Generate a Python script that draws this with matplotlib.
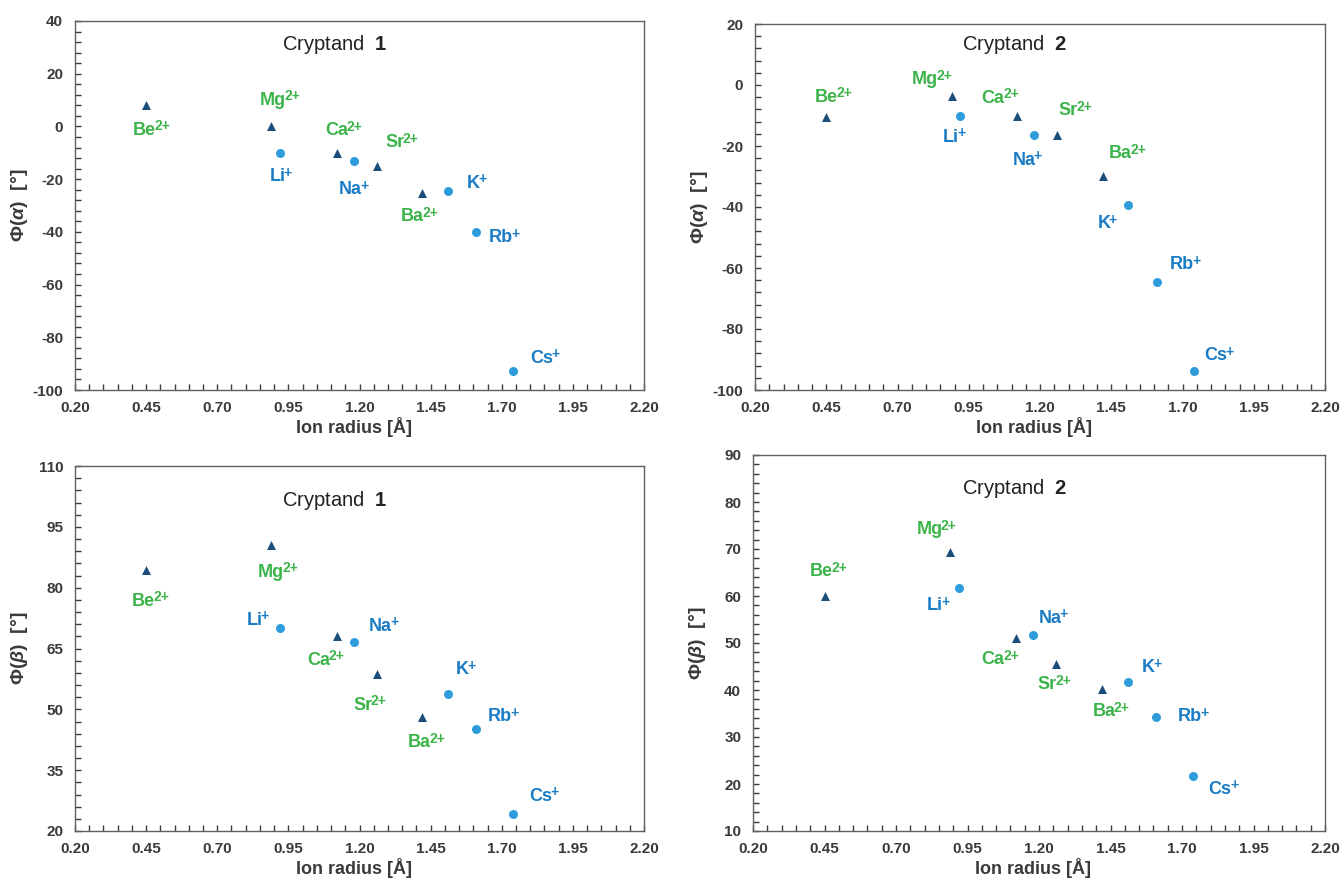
import matplotlib
matplotlib.use("Agg")
import matplotlib.pyplot as plt
import numpy as np
from matplotlib.ticker import FormatStrFormatter

plt.rcParams['font.family'] = ['Liberation Sans', 'DejaVu Sans']
plt.rcParams['axes.unicode_minus'] = False
plt.rcParams['mathtext.fontset'] = 'custom'
plt.rcParams['mathtext.rm'] = 'Liberation Sans:bold'
plt.rcParams['mathtext.bf'] = 'Liberation Sans:bold'
plt.rcParams['mathtext.it'] = 'Liberation Sans:italic:bold'

# ---------------- data ----------------
ions_ae = ['Be', 'Mg', 'Ca', 'Sr', 'Ba']          # alkaline earth (2+)
ions_alk = ['Li', 'Na', 'K', 'Rb', 'Cs']          # alkali (+)
radius_ae = [0.45, 0.89, 1.12, 1.26, 1.42]
radius_alk = [0.92, 1.18, 1.51, 1.61, 1.74]

phi_alpha_1_ae = [8.0, 0.0, -10.0, -15.0, -25.2]
phi_alpha_1_alk = [-10.0, -13.0, -24.6, -40.0, -92.8]
phi_alpha_2_ae = [-10.5, -3.5, -10.0, -16.3, -29.8]
phi_alpha_2_alk = [-10.0, -16.4, -39.3, -64.5, -93.7]
phi_beta_1_ae = [84.3, 90.5, 68.0, 58.6, 48.2]
phi_beta_1_alk = [70.0, 66.5, 53.9, 45.2, 24.1]
phi_beta_2_ae = [60.0, 69.4, 51.1, 45.6, 40.3]
phi_beta_2_alk = [61.8, 51.7, 41.8, 34.3, 21.6]

x_ticks = [0.20, 0.45, 0.70, 0.95, 1.20, 1.45, 1.70, 1.95, 2.20]

# ---------------- styles / layout ----------------
C_TRI = '#1b4f7a'
C_CIRC = '#2e9bdb'
C_GREEN = '#3cb44a'
C_BLUE = '#1a7cc4'
C_TICK = '#3a3a3a'
C_SPINE = '#606060'

# label offsets (pixels) relative to marker, per panel
offs = {
    'a1': {'Be': (4, -25), 'Mg': (8, 26), 'Li': (1, -24), 'Ca': (6, 22), 'Na': (0, -29),
           'Sr': (24, 23), 'Ba': (-4, -24), 'K': (29, 8), 'Rb': (28, -6), 'Cs': (32, 13)},
    'a2': {'Be': (6, 20), 'Mg': (-21, 16), 'Li': (-6, -22), 'Ca': (-18, 17), 'Na': (-7, -25),
           'Sr': (17, 24), 'Ba': (24, 22), 'K': (-21, -19), 'Rb': (28, 17), 'Cs': (25, 15)},
    'b1': {'Be': (3, -31), 'Mg': (6, -27), 'Li': (-22, 8), 'Ca': (-12, -24), 'Na': (30, 16),
           'Sr': (-8, -31), 'Ba': (3, -26), 'K': (18, 24), 'Rb': (27, 12), 'Cs': (31, 18)},
    'b2': {'Be': (3, 24), 'Mg': (-15, 22), 'Li': (-21, -18), 'Ca': (-17, -22), 'Na': (20, 17),
           'Sr': (-3, -21), 'Ba': (8, -23), 'K': (24, 14), 'Rb': (37, 0), 'Cs': (30, -13)},
}

W, H = 1342, 881
fig = plt.figure(figsize=(W / 100, H / 100), dpi=100)

panels = [
    ('a1', (75, 21, 644, 390), phi_alpha_1_ae, phi_alpha_1_alk, (-100, 40), 20, 4,
     r'$\mathit{Φ(α)}$  [°]', '1', (0.456, 0.935)),
    ('a2', (755, 24, 1325, 390), phi_alpha_2_ae, phi_alpha_2_alk, (-100, 20), 20, 4,
     r'$\mathit{Φ(α)}$  [°]', '2', (0.456, 0.943)),
    ('b1', (75, 466, 644, 831), phi_beta_1_ae, phi_beta_1_alk, (20, 110), 15, 3,
     r'$\mathit{Φ(β)}$  [°]', '1', (0.456, 0.905)),
    ('b2', (753, 455, 1325, 831), phi_beta_2_ae, phi_beta_2_alk, (10, 90), 10, 2,
     r'$\mathit{Φ(β)}$  [°]', '2', (0.458, 0.91)),
]


def ion_label(ax, name, sup, xv, yv, off, color):
    shift = 6 if len(sup) == 2 else 3.5
    base = ax.annotate(name, (xv, yv), xytext=(off[0] - shift, off[1]),
                       textcoords='offset pixels', ha='center', va='center',
                       fontsize=13, fontweight='bold', color=color)
    ax.annotate(sup, xy=(1.0, 1.0), xycoords=base, xytext=(-1.5, 2.5),
                textcoords='offset pixels', ha='left', va='top',
                fontsize=10, fontweight='bold', color=color)


for key, (l, t, r, b), yae, yalk, ylim, maj, mnr, ylab, cnum, tpos in panels:
    ax = fig.add_axes([l / W, (H - b) / H, (r - l) / W, (b - t) / H])
    ax.set_xlim(x_ticks[0], x_ticks[-1])
    ax.set_ylim(*ylim)
    ax.set_xticks(x_ticks)
    ax.set_xticks(np.arange(0.20, 2.2001, 0.05), minor=True)
    ax.xaxis.set_major_formatter(FormatStrFormatter('%.2f'))
    ax.set_yticks(np.arange(ylim[0], ylim[1] + 0.01, maj))
    ax.set_yticks(np.arange(ylim[0], ylim[1] + 0.01, mnr), minor=True)
    ax.tick_params(which='both', direction='in', color=C_TICK, width=1)
    ax.tick_params(which='major', length=4, labelsize=11, labelcolor=C_TICK)
    ax.tick_params(axis='x', which='major', pad=8)
    ax.tick_params(axis='y', which='major', pad=8.5)
    ax.tick_params(which='minor', length=4)
    for lab in ax.get_xticklabels() + ax.get_yticklabels():
        lab.set_fontweight('bold')
    for s in ax.spines.values():
        s.set_color(C_SPINE)
        s.set_linewidth(1.0)

    ax.scatter(radius_ae, yae, marker='^', s=42, color=C_TRI, zorder=3, linewidths=0)
    ax.scatter(radius_alk, yalk, marker='o', s=42, color=C_CIRC, zorder=3, linewidths=0)

    o = offs[key]
    for name, xv, yv in zip(ions_ae, radius_ae, yae):
        ion_label(ax, name, '2+', xv, yv, o[name], C_GREEN)
    for name, xv, yv in zip(ions_alk, radius_alk, yalk):
        ion_label(ax, name, '+', xv, yv, o[name], C_BLUE)

    ax.text(tpos[0], tpos[1], 'Cryptand  $\\mathbf{' + cnum + '}$', transform=ax.transAxes,
            ha='center', va='center', fontsize=14.5, color='#222222')

    hpx = b - t
    ax.set_xlabel('Ion radius [Å]', fontsize=13, fontweight='bold', color=C_TICK)
    ax.xaxis.set_label_coords(0.49, -27 / hpx)
    ax.set_ylabel(ylab, fontsize=14, fontweight='bold', color=C_TICK)
    ax.yaxis.set_label_coords(-45 / (r - l), 0.5)

fig.savefig('out.png', dpi=100)
